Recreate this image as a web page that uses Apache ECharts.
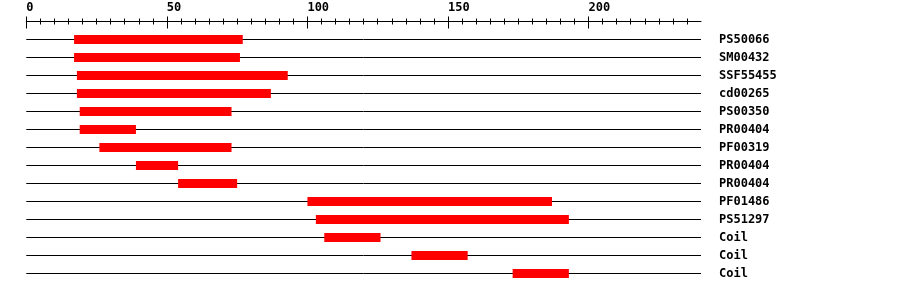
<!DOCTYPE html>
<html>
<head>
<meta charset="utf-8">
<script src="https://cdn.jsdelivr.net/npm/echarts@6/dist/echarts.min.js"></script>
<style>html,body{margin:0;padding:0;background:#fff}#c{width:900px;height:292px}</style>
</head>
<body>
<div id="c"></div>
<script>
// Feature names (top to bottom)
var names = ['PS50066','SM00432','SSF55455','cd00265','PS00350','PR00404','PF00319','PR00404','PR00404','PF01486','PS51297','Coil','Coil','Coil'];
// Start and end positions of each feature
var starts = [17, 17, 18, 18, 19, 19, 26, 39, 54, 100, 103, 106, 137, 173];
var ends   = [77, 76, 93, 87, 73, 39, 73, 54, 75, 187, 193, 126, 157, 193];
// Axis ticks
var majorTicks = [0, 50, 100, 150, 200];
var axisMax = 240;
var minorStep = 5;
var minorTicks = [];
for (var t = 0; t < axisMax; t += minorStep) { if (majorTicks.indexOf(t) < 0) minorTicks.push(t); }

var font = '"DejaVu Sans Mono", monospace';
var data = names.map(function (n, i) { return [i, starts[i], ends[i]]; });
var rowIdx = names.map(function (n, i) { return i; });

function xAx(opts) {
  var base = {
    type: 'value', position: 'top', offset: 18, min: 0, max: axisMax,
    axisLine: { show: false, lineStyle: { color: '#000', width: 1 } },
    splitLine: { show: false },
    axisLabel: { show: false },
    axisTick: { show: false }
  };
  for (var k in opts) base[k] = opts[k];
  return base;
}

var chart = echarts.init(document.getElementById('c'), null, { renderer: 'canvas' });
chart.setOption({
  animation: false,
  backgroundColor: '#fff',
  grid: { left: 26.3, right: 199, top: 39.5, bottom: 292 - 273.5, containLabel: false },
  xAxis: [
    xAx({
      axisLine: { show: true, lineStyle: { color: '#000', width: 1 } },
      axisTick: { show: true, inside: false, length: 3, customValues: minorTicks, lineStyle: { color: '#000' } },
      axisLabel: { show: true, customValues: majorTicks, align: 'left', margin: 8,
        color: '#000', fontFamily: font, fontWeight: 'bold', fontSize: 12 }
    }),
    xAx({ axisTick: { show: true, inside: true, length: 3, customValues: minorTicks, lineStyle: { color: '#000' } } }),
    xAx({ axisTick: { show: true, inside: false, length: 5, customValues: majorTicks, lineStyle: { color: '#000' } } }),
    xAx({ axisTick: { show: true, inside: true, length: 7, customValues: majorTicks, lineStyle: { color: '#000' } } })
  ],
  yAxis: {
    type: 'category', data: rowIdx, inverse: true, boundaryGap: false, position: 'right',
    axisLine: { show: false }, axisTick: { show: false },
    splitLine: { show: true, lineStyle: { color: '#000', width: 1 } },
    axisLabel: { margin: 18, color: '#000', fontFamily: font, fontWeight: 'bold', fontSize: 12,
      formatter: function (v) { return names[+v]; } }
  },
  series: [{
    type: 'custom', xAxisIndex: 0, yAxisIndex: 0,
    encode: { x: [1, 2], y: 0 },
    data: data,
    renderItem: function (params, api) {
      var y = api.value(0);
      var s = api.coord([api.value(1), y]);
      var e = api.coord([api.value(2), y]);
      return { type: 'rect', shape: { x: s[0], y: s[1] - 4.5, width: e[0] - s[0], height: 9 },
        style: { fill: '#ff0000' } };
    }
  }]
});
</script>
</body>
</html>
